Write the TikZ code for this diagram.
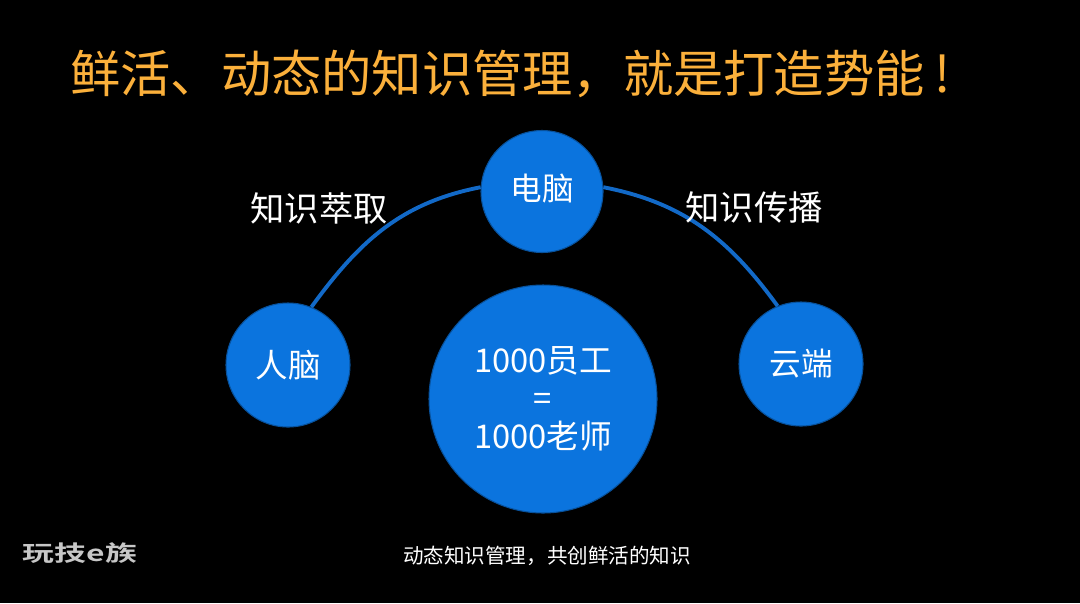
\documentclass[tikz,border=0pt]{standalone}
\usepackage{fontspec}
\setmainfont{Noto Sans CJK SC}
\newfontfamily\logofont[BoldFont={Noto Sans CJK SC Bold}]{Noto Sans CJK SC}
\definecolor{titleorange}{HTML}{FBB03B}
\definecolor{ballblue}{HTML}{0B74DE}
\definecolor{arcblue}{HTML}{1269C7}
\newcommand{\widecomma}{\symbol{"FF0C}}
\tikzset{
  ball/.style={circle,fill=ballblue,draw=ballblue!70!black,line width=0.6pt,inner sep=0pt,text=white,align=center},
  arcline/.style={draw=arcblue,line width=2.2pt},
  arclabel/.style={text=white,font=\fontsize{19.5}{20}\selectfont,inner sep=0pt},
}
\begin{document}
\begin{tikzpicture}
\fill[black] (0,0) rectangle (21.6,-12.06);
\useasboundingbox (0,0) rectangle (21.6,-12.06);
\node[text=titleorange,font=\fontsize{28.6}{28.6}\selectfont,anchor=west,inner sep=0pt] (title) at (1.4,-1.48) {鲜活、动态的知识管理\widecomma 就是打造势能\hspace{0.2em}!};
\node[ball,minimum size=2.44cm,font=\fontsize{18}{20}\selectfont] (dian) at (10.84,-3.83) {\raisebox{5pt}{电脑}};
\node[ball,minimum size=2.48cm,font=\fontsize{18.5}{20}\selectfont] (ren) at (5.76,-7.3) {人脑};
\node[ball,minimum size=2.48cm,font=\fontsize{18}{20}\selectfont] (yun) at (16.02,-7.28) {云端};
\node[ball,minimum size=4.56cm,font=\fontsize{18.6}{21.5}\selectfont] (staff) at (10.86,-7.98) {1000员工\\=\\1000老师};
\draw[arcline] (ren.68) to[out=54,in=191] (dian.176);
\draw[arcline] (dian.4) to[out=-11,in=126] (yun.112);
\node[arclabel] (extract) at (6.38,-4.16) {知识萃取};
\node[arclabel] (spread) at (15.08,-4.14) {知识传播};
\node[text=white,font=\fontsize{11.7}{12}\selectfont,inner sep=0pt] (caption) at (10.94,-11.12) {动态知识管理\widecomma 共创鲜活的知识};
\node[text=black!22,font=\logofont\bfseries\fontsize{12.5}{12.5}\selectfont,inner sep=0pt,xscale=1.45] (logo) at (1.6,-11.06) {玩技e族};
\end{tikzpicture}
\end{document}
